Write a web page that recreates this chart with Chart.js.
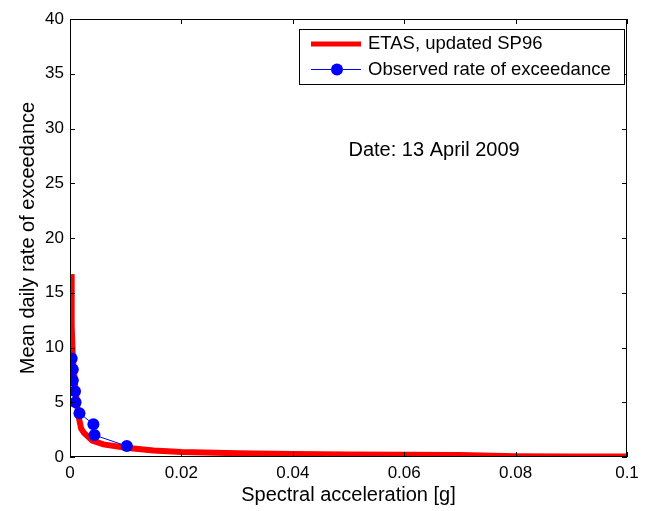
<!DOCTYPE html>
<html>
<head>
<meta charset="utf-8">
<script src="https://cdn.jsdelivr.net/npm/chart.js@4/dist/chart.umd.min.js"></script>
<style>
  html, body { margin: 0; padding: 0; background: #fff; }
  #wrap { width: 651px; height: 511px; }
</style>
</head>
<body>
<div id="wrap"><canvas id="chart"></canvas></div>
<script>
// Model curve (ETAS, updated SP96)
const etasX = [0.0002, 0.0003, 0.0005, 0.001, 0.0015, 0.002, 0.0025, 0.004, 0.006, 0.01,
               0.015, 0.02, 0.03, 0.04, 0.05, 0.06, 0.07, 0.08, 0.09, 0.1];
const etasY = [16.7, 12, 9.1, 6, 3.8, 2.6, 2.2, 1.5, 1.15, 0.85,
               0.6, 0.45, 0.35, 0.27, 0.23, 0.2, 0.18, 0.07, 0.05, 0.04];

// Observed exceedance rates
const obsX = [0.0003, 0.0005, 0.0005, 0.0009, 0.001, 0.0017, 0.0042, 0.0044, 0.0102];
const obsY = [9, 8, 7, 6, 5, 4, 3, 2, 1];

const xTicks = [0, 0.02, 0.04, 0.06, 0.08, 0.1];
const xTickLabels = ["0", "0.02", "0.04", "0.06", "0.08", "0.1"];
const yTicks = [0, 5, 10, 15, 20, 25, 30, 35, 40];

const seriesNames = ["ETAS, updated SP96", "Observed rate of exceedance"];
const noteText = "Date: 13 April 2009";

const FONT = "Arial, 'Liberation Sans', sans-serif";

const toPoints = (xs, ys) => xs.map((x, i) => ({ x, y: ys[i] }));

/* box, inward ticks, legend and date note */
const matlabFrame = {
  id: "matlabFrame",
  afterDraw(chart) {
    const { ctx, chartArea: a, scales } = chart;
    ctx.save();
    ctx.strokeStyle = "#000";
    ctx.lineWidth = 1;
    ctx.strokeRect(a.left + 0.5, a.top + 0.5, a.right - a.left - 1, a.bottom - a.top - 1);

    const len = 5;
    ctx.beginPath();
    xTicks.forEach(v => {
      const px = Math.round(scales.x.getPixelForValue(v)) + 0.5;
      ctx.moveTo(px, a.bottom); ctx.lineTo(px, a.bottom - len);
      ctx.moveTo(px, a.top);    ctx.lineTo(px, a.top + len);
    });
    yTicks.forEach(v => {
      const py = Math.round(scales.y.getPixelForValue(v)) + 0.5;
      ctx.moveTo(a.left, py);  ctx.lineTo(a.left + len, py);
      ctx.moveTo(a.right, py); ctx.lineTo(a.right - len, py);
    });
    ctx.stroke();

    // legend box
    const lx = 299, ly = 29, lw = 325, lh = 55;
    ctx.fillStyle = "#fff";
    ctx.fillRect(lx, ly, lw, lh);
    ctx.strokeRect(lx + 0.5, ly + 0.5, lw, lh);

    ctx.strokeStyle = "#ff0000";
    ctx.lineWidth = 5;
    ctx.beginPath(); ctx.moveTo(311, 44); ctx.lineTo(361, 44); ctx.stroke();

    ctx.strokeStyle = "#0000ff";
    ctx.lineWidth = 1;
    ctx.beginPath(); ctx.moveTo(311, 69.5); ctx.lineTo(361, 69.5); ctx.stroke();
    ctx.fillStyle = "#0000ff";
    ctx.beginPath(); ctx.arc(337, 69.5, 6, 0, Math.PI * 2); ctx.fill();

    ctx.fillStyle = "#000";
    ctx.font = "18.5px " + FONT;
    ctx.textBaseline = "middle";
    ctx.textAlign = "left";
    ctx.fillText(seriesNames[0], 368, 44);
    ctx.fillText(seriesNames[1], 368, 70);

    // date note
    ctx.font = "20px " + FONT;
    ctx.fillText(noteText, scales.x.getPixelForValue(0.05), scales.y.getPixelForValue(28));
    ctx.restore();
  }
};

new Chart(document.getElementById("chart"), {
  type: "scatter",
  data: {
    datasets: [
      {
        label: seriesNames[0],
        data: toPoints(etasX, etasY),
        showLine: true,
        borderColor: "#ff0000",
        backgroundColor: "#ff0000",
        borderWidth: 6,
        pointRadius: 0,
        tension: 0,
        order: 1,
      },
      {
        label: seriesNames[1],
        data: toPoints(obsX, obsY),
        showLine: true,
        borderColor: "#0000ff",
        backgroundColor: "#0000ff",
        borderWidth: 1,
        pointRadius: 6,
        pointBorderWidth: 0,
        tension: 0,
        order: 0,
      },
    ],
  },
  options: {
    responsive: true, maintainAspectRatio: false,
    animation: false,
    layout: { padding: { top: 19, right: 24, left: 0, bottom: 0 } },
    plugins: { legend: { display: false }, tooltip: { enabled: false } },
    scales: {
      x: {
        type: "linear", min: 0, max: 0.1,
        afterBuildTicks: s => { s.ticks = xTicks.map(v => ({ value: v })); },
        afterFit: s => { s.height = 54; },
        grid: { display: false, drawTicks: false },
        border: { display: false },
        ticks: {
          color: "#000", padding: 6,
          font: { size: 17, family: FONT },
          callback: (v) => xTickLabels[xTicks.indexOf(v)] ?? "",
          maxRotation: 0, autoSkip: false,
        },
        title: {
          display: true, text: "Spectral acceleration [g]", color: "#000",
          font: { size: 20, family: FONT }, padding: { top: 0, bottom: 4 },
        },
      },
      y: {
        type: "linear", min: 0, max: 40,
        afterBuildTicks: s => { s.ticks = yTicks.map(v => ({ value: v })); },
        afterFit: s => { s.width = 70; },
        grid: { display: false, drawTicks: false },
        border: { display: false },
        ticks: {
          color: "#000", padding: 6,
          font: { size: 17, family: FONT },
          autoSkip: false,
        },
        title: {
          display: true, text: "Mean daily rate of exceedance", color: "#000",
          font: { size: 20, family: FONT }, padding: { top: 16, bottom: 0 },
        },
      },
    },
  },
  plugins: [matlabFrame],
});
</script>
</body>
</html>
